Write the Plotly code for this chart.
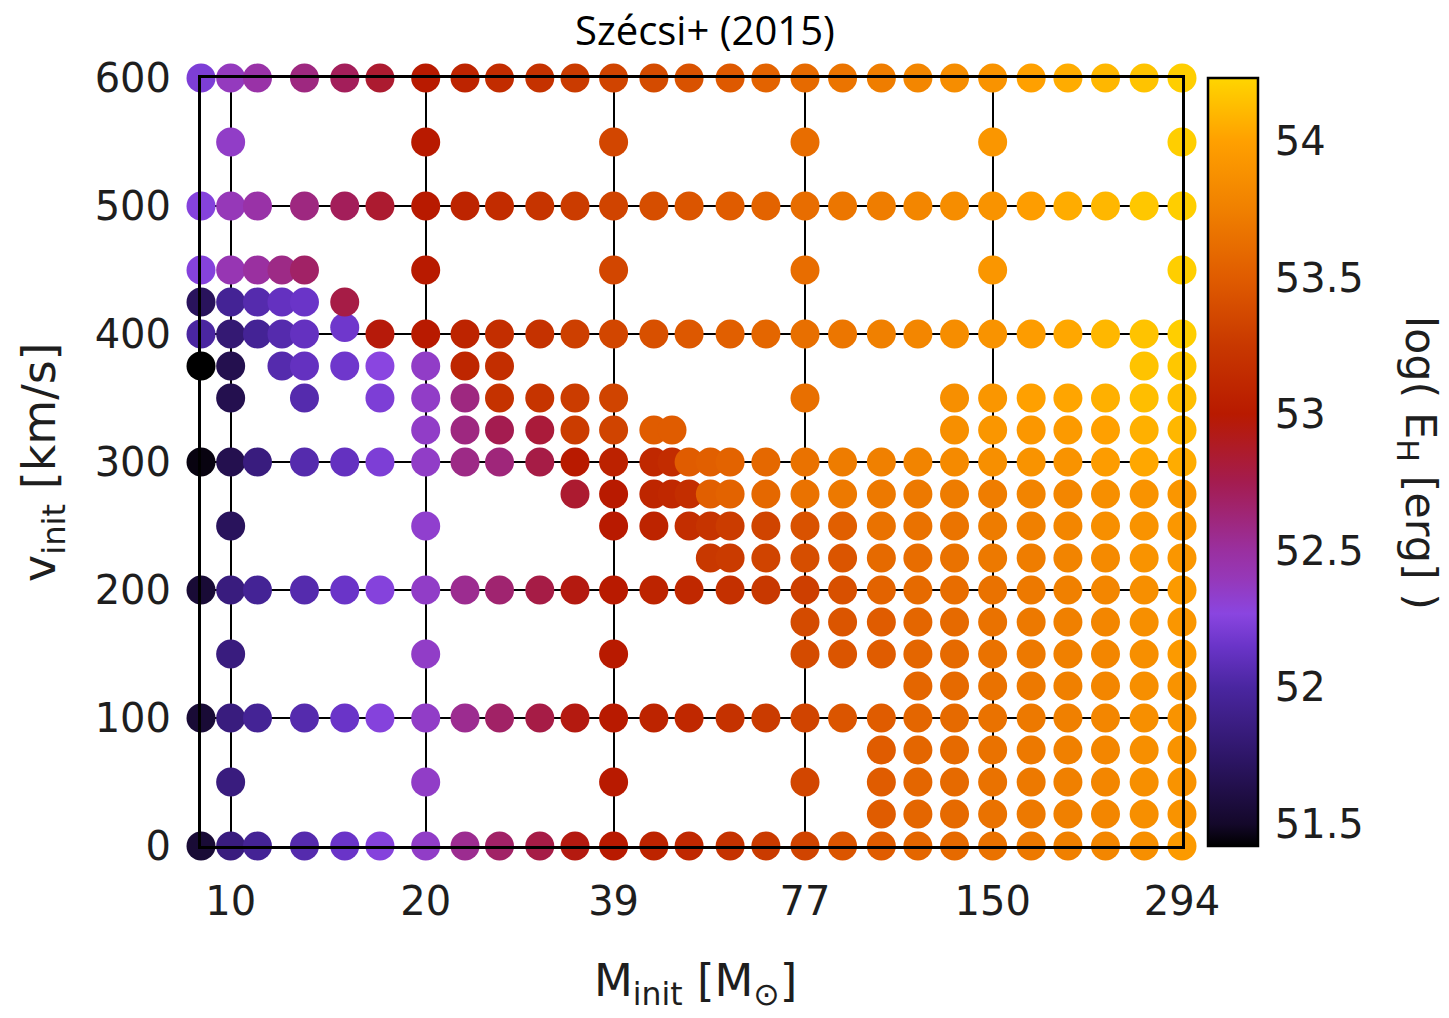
import math
import plotly.graph_objects as go

# ---------------- data ----------------
# Initial rotational velocity rows [km/s] and, for each row, the initial masses [Msun]
# present in the grid together with log(E_H [erg]).
v0_mass = [9, 10, 11, 13, 15, 17, 20, 23, 26, 30, 34, 39, 45, 51, 59, 67, 77, 88, 101, 115, 131, 150, 172, 196, 224, 257, 294]
v0_logE = [51.55, 51.85, 51.95, 52.05, 52.15, 52.25, 52.35, 52.55, 52.68, 52.78, 52.95, 53.0, 53.08, 53.12, 53.2, 53.27, 53.33, 53.45, 53.5, 53.57, 53.6, 53.65, 53.7, 53.75, 53.8, 53.87, 53.95]

v25_mass = [101, 115, 131, 150, 172, 196, 224, 257, 294]
v25_logE = [53.5, 53.57, 53.6, 53.65, 53.7, 53.75, 53.8, 53.87, 53.9]

v50_mass = [10, 20, 39, 77, 101, 115, 131, 150, 172, 196, 224, 257, 294]
v50_logE = [51.85, 52.35, 53.0, 53.35, 53.5, 53.57, 53.6, 53.65, 53.7, 53.75, 53.8, 53.87, 53.9]

v75_mass = [101, 115, 131, 150, 172, 196, 224, 257, 294]
v75_logE = [53.5, 53.57, 53.6, 53.65, 53.7, 53.75, 53.8, 53.87, 53.9]

v100_mass = [9, 10, 11, 13, 15, 17, 20, 23, 26, 30, 34, 39, 45, 51, 59, 67, 77, 88, 101, 115, 131, 150, 172, 196, 224, 257, 294]
v100_logE = [51.55, 51.85, 51.95, 52.05, 52.15, 52.25, 52.35, 52.55, 52.68, 52.78, 52.95, 53.0, 53.08, 53.12, 53.2, 53.27, 53.33, 53.45, 53.5, 53.57, 53.6, 53.65, 53.7, 53.75, 53.8, 53.87, 53.9]

v125_mass = [115, 131, 150, 172, 196, 224, 257, 294]
v125_logE = [53.57, 53.6, 53.65, 53.7, 53.75, 53.8, 53.87, 53.9]

v150_mass = [10, 20, 39, 77, 88, 101, 115, 131, 150, 172, 196, 224, 257, 294]
v150_logE = [51.85, 52.35, 53.0, 53.38, 53.45, 53.5, 53.57, 53.6, 53.65, 53.7, 53.75, 53.8, 53.87, 53.95]

v175_mass = [77, 88, 101, 115, 131, 150, 172, 196, 224, 257, 294]
v175_logE = [53.38, 53.45, 53.5, 53.57, 53.6, 53.65, 53.7, 53.75, 53.8, 53.87, 53.92]

v200_mass = [9, 10, 11, 13, 15, 17, 20, 23, 26, 30, 34, 39, 45, 51, 59, 67, 77, 88, 101, 115, 131, 150, 172, 196, 224, 257, 294]
v200_logE = [51.55, 51.85, 51.95, 52.05, 52.15, 52.25, 52.35, 52.55, 52.65, 52.78, 52.95, 53.0, 53.08, 53.12, 53.18, 53.25, 53.3, 53.42, 53.55, 53.6, 53.62, 53.65, 53.7, 53.75, 53.8, 53.87, 53.95]

v225_mass = [55, 59, 67, 77, 88, 101, 115, 131, 150, 172, 196, 224, 257, 294]
v225_logE = [53.25, 53.27, 53.33, 53.4, 53.45, 53.6, 53.62, 53.65, 53.7, 53.73, 53.78, 53.83, 53.9, 53.92]

v250_mass = [10, 20, 39, 45, 51, 55, 59, 67, 77, 88, 101, 115, 131, 150, 172, 196, 224, 257, 294]
v250_logE = [51.7, 52.33, 53.0, 53.08, 53.17, 53.22, 53.28, 53.33, 53.43, 53.52, 53.65, 53.65, 53.67, 53.72, 53.75, 53.8, 53.87, 53.9, 53.93]

v275_mass = [34, 39, 45, 48, 51, 55, 59, 67, 77, 88, 101, 115, 131, 150, 172, 196, 224, 257, 294]
v275_logE = [52.85, 53.0, 53.1, 53.12, 53.17, 53.52, 53.55, 53.58, 53.65, 53.7, 53.7, 53.7, 53.72, 53.73, 53.78, 53.8, 53.87, 53.9, 53.92]

v300_mass = [9, 10, 11, 13, 15, 17, 20, 23, 26, 30, 34, 39, 45, 48, 51, 55, 59, 67, 77, 88, 101, 115, 131, 150, 172, 196, 224, 257, 294]
v300_logE = [51.45, 51.65, 51.85, 52.05, 52.12, 52.22, 52.35, 52.58, 52.62, 52.78, 53.0, 53.07, 53.12, 53.15, 53.5, 53.52, 53.55, 53.58, 53.65, 53.72, 53.75, 53.78, 53.83, 53.87, 53.9, 53.9, 53.97, 54.03, 54.05]

v325_mass = [20, 23, 26, 30, 34, 39, 45, 48, 131, 150, 172, 196, 224, 257, 294]
v325_logE = [52.35, 52.6, 52.75, 52.82, 53.28, 53.33, 53.5, 53.5, 53.87, 53.92, 53.93, 53.95, 54.0, 54.07, 54.1]

v350_mass = [10, 13, 17, 20, 23, 26, 30, 34, 39, 77, 131, 150, 172, 196, 224, 257, 294]
v350_logE = [51.65, 52.05, 52.22, 52.35, 52.6, 53.2, 53.22, 53.28, 53.33, 53.63, 53.87, 53.92, 54.0, 54.02, 54.07, 54.13, 54.13]

v375_mass = [9, 10, 12, 13, 15, 17, 20, 23, 26, 257, 294]
v375_logE = [51.42, 51.65, 52.05, 52.12, 52.17, 52.27, 52.35, 53.1, 53.17, 54.15, 54.17]

v400_mass = [9, 10, 11, 12, 13, 17, 20, 23, 26, 30, 34, 39, 45, 51, 59, 67, 77, 88, 101, 115, 131, 150, 172, 196, 224, 257, 294]
v400_logE = [52.0, 51.8, 51.95, 52.05, 52.12, 52.97, 53.0, 53.08, 53.17, 53.2, 53.3, 53.35, 53.42, 53.47, 53.52, 53.57, 53.63, 53.68, 53.75, 53.8, 53.85, 53.9, 53.97, 54.03, 54.1, 54.15, 54.2]

v405_mass = [15]
v405_logE = [52.17]

v425_mass = [9, 10, 11, 12, 13, 15]
v425_logE = [51.7, 51.95, 52.05, 52.12, 52.15, 52.78]

v450_mass = [9, 10, 11, 12, 13, 20, 39, 77, 150, 294]
v450_logE = [52.25, 52.42, 52.5, 52.58, 52.68, 53.0, 53.35, 53.62, 53.92, 54.2]

v500_mass = [9, 10, 11, 13, 15, 17, 20, 23, 26, 30, 34, 39, 45, 51, 59, 67, 77, 88, 101, 115, 131, 150, 172, 196, 224, 257, 294]
v500_logE = [52.25, 52.4, 52.47, 52.6, 52.72, 52.85, 53.0, 53.08, 53.15, 53.22, 53.28, 53.33, 53.4, 53.45, 53.5, 53.55, 53.62, 53.68, 53.73, 53.8, 53.85, 53.9, 53.98, 54.05, 54.1, 54.17, 54.2]

v550_mass = [10, 20, 39, 77, 150, 294]
v550_logE = [52.35, 53.0, 53.35, 53.62, 53.92, 54.2]

v600_mass = [9, 10, 11, 13, 15, 17, 20, 23, 26, 30, 34, 39, 45, 51, 59, 67, 77, 88, 101, 115, 131, 150, 172, 196, 224, 257, 294]
v600_logE = [52.22, 52.38, 52.47, 52.6, 52.72, 52.85, 53.0, 53.08, 53.15, 53.2, 53.27, 53.33, 53.38, 53.43, 53.48, 53.55, 53.6, 53.67, 53.73, 53.8, 53.85, 53.9, 54.0, 54.05, 54.1, 54.15, 54.2]

rows = [
    (0, v0_mass, v0_logE), (25, v25_mass, v25_logE), (50, v50_mass, v50_logE),
    (75, v75_mass, v75_logE), (100, v100_mass, v100_logE), (125, v125_mass, v125_logE),
    (150, v150_mass, v150_logE), (175, v175_mass, v175_logE), (200, v200_mass, v200_logE),
    (225, v225_mass, v225_logE), (250, v250_mass, v250_logE), (275, v275_mass, v275_logE),
    (300, v300_mass, v300_logE), (325, v325_mass, v325_logE), (350, v350_mass, v350_logE),
    (375, v375_mass, v375_logE), (400, v400_mass, v400_logE), (405, v405_mass, v405_logE),
    (425, v425_mass, v425_logE), (450, v450_mass, v450_logE), (500, v500_mass, v500_logE),
    (550, v550_mass, v550_logE), (600, v600_mass, v600_logE),
]

x_tickvals = [10, 20, 39, 77, 150, 294]
x_ticktext = ["10", "20", "39", "77", "150", "294"]
y_tickvals = [0, 100, 200, 300, 400, 500, 600]
cbar_tickvals = [51.5, 52, 52.5, 53, 53.5, 54]
cbar_ticktext = ["51.5", "52", "52.5", "53", "53.5", "54"]

# ---------------- build ----------------
xs, ys, cs = [], [], []
for v, ms, es in rows:
    for m, e in zip(ms, es):
        xs.append(m)
        ys.append(v)
        cs.append(e)

CMIN, CMAX = 51.42, 54.23
stops = [
    (51.42, "#000000"), (51.5, "#14082a"), (51.75, "#2e1668"), (52.0, "#4a26a0"),
    (52.15, "#6a34c8"), (52.27, "#8a45e0"), (52.4, "#9638b8"), (52.5, "#9a30a0"),
    (52.75, "#a41c50"), (53.0, "#b81a00"), (53.25, "#c83800"), (53.5, "#e05c00"),
    (53.75, "#f08000"), (54.0, "#ffa000"), (54.23, "#ffd500"),
]
colorscale = [[(v - CMIN) / (CMAX - CMIN), c] for v, c in stops]
colorscale[-1][0] = 1.0
colorscale[0][0] = 0.0

TEXTCOL = "#1e1e1e"
TICKFONT = dict(family="DejaVu Sans", size=40, color=TEXTCOL)

# page is rendered with an 8px body margin -> work in figure pixels = page pixels - 8
OFF = 8
W, H = 1449 - OFF, 1018 - OFF
L, T = 201 - OFF, 78 - OFF
Rpx, Bpx = 1182 - OFF, 846 - OFF
R, B = W - Rpx, H - Bpx
PW, PH = Rpx - L, Bpx - T


def px_x(px):
    return (px - OFF - L) / PW


def px_y(py):
    return (Bpx - (py - OFF)) / PH


CB_LEFT = px_x(1208)
CB_THICK = 50

fig = go.Figure(
    go.Scatter(
        x=xs, y=ys, mode="markers", cliponaxis=False, hoverinfo="skip",
        marker=dict(
            size=29, color=cs, colorscale=colorscale, cmin=CMIN, cmax=CMAX,
            line=dict(width=0),
            colorbar=dict(
                x=CB_LEFT, xanchor="left", xpad=0,
                y=0.5, yanchor="middle", len=1, lenmode="fraction", ypad=0,
                thickness=CB_THICK, outlinewidth=2.5, outlinecolor="black",
                tickvals=cbar_tickvals, ticktext=cbar_ticktext,
                ticks="outside", ticklen=8, tickwidth=1, tickcolor="rgba(0,0,0,0)",
                tickfont=TICKFONT,
            ),
        ),
    )
)

fig.update_xaxes(
    type="log", range=[math.log10(9), math.log10(294)],
    tickvals=x_tickvals, ticktext=x_ticktext, tickfont=TICKFONT,
    showgrid=True, gridcolor="black", gridwidth=2,
    showline=True, mirror=True, linecolor="black", linewidth=3,
    zeroline=False, ticks="", ticklabelstandoff=18,
)
fig.update_yaxes(
    range=[0, 600], tickvals=y_tickvals, tickfont=TICKFONT,
    showgrid=True, gridcolor="black", gridwidth=2,
    showline=True, mirror=True, linecolor="black", linewidth=3,
    zeroline=False, ticks="", ticklabelstandoff=19,
)

# inside tick marks on both edges of the colour bar, placed with the colour scale
shapes = []
tick_len = 10 / PW
cb_right = CB_LEFT + CB_THICK / PW
for tv in cbar_tickvals:
    yf = (tv - CMIN) / (CMAX - CMIN)
    for x0, x1 in ((CB_LEFT, CB_LEFT + tick_len), (cb_right - tick_len, cb_right)):
        shapes.append(dict(type="line", xref="paper", yref="paper", x0=x0, x1=x1,
                           y0=yf, y1=yf, line=dict(color="black", width=2)))

annos = [
    dict(text="Szécsi+ (2015)", x=px_x(705), y=px_y(29), yanchor="middle",
         font=dict(family="Open Sans", size=40, color="black"), textangle=0),
    dict(text="v<sub>init</sub> [km/s]", x=px_x(42), y=px_y(462), yanchor="middle",
         font=dict(family="DejaVu Sans", size=46, color=TEXTCOL), textangle=-90),
    dict(text="M<sub>init</sub> [M<sub>⊙</sub>]", x=px_x(695), y=px_y(983), yanchor="middle",
         font=dict(family="DejaVu Sans", size=45, color=TEXTCOL), textangle=0),
    dict(text="log( E<sub>H</sub> [erg] )", x=px_x(1418), y=px_y(463), yanchor="middle",
         font=dict(family="DejaVu Sans", size=43, color=TEXTCOL), textangle=90),
]
for a in annos:
    a.update(xref="paper", yref="paper", showarrow=False, xanchor="center")

fig.update_layout(
    width=W, height=H,
    margin=dict(l=L, r=R, t=T, b=B),
    paper_bgcolor="white", plot_bgcolor="white",
    showlegend=False, annotations=annos, shapes=shapes,
)

fig.write_html("out.html")
